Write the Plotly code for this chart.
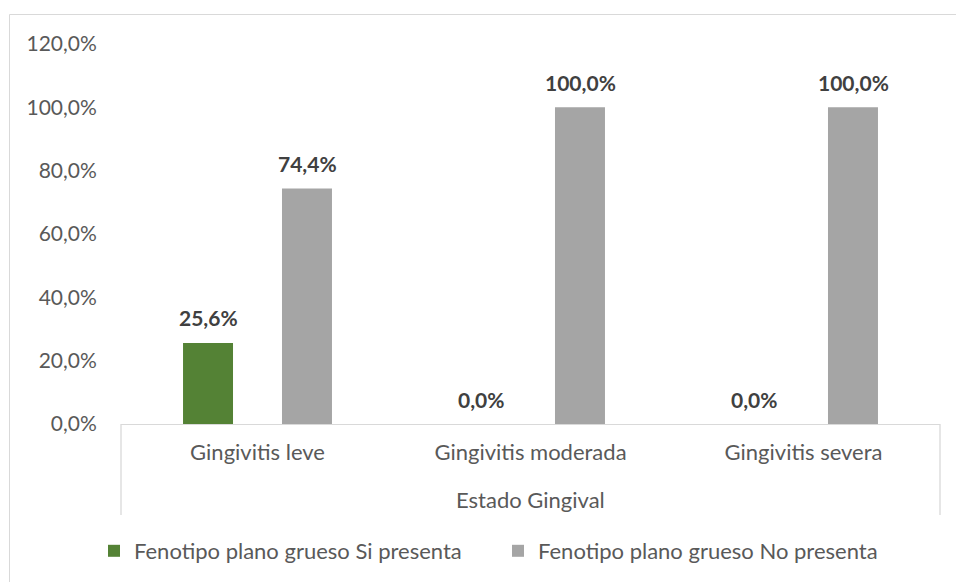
import plotly.graph_objects as go

# Data
categories = ["Gingivitis leve", "Gingivitis moderada", "Gingivitis severa"]
si_presenta = [25.6, 0.0, 0.0]
no_presenta = [74.4, 100.0, 100.0]
series_names = ["Fenotipo plano grueso Si presenta", "Fenotipo plano grueso No presenta"]
y_ticks = [0, 20, 40, 60, 80, 100, 120]
axis_title = "Estado Gingival"

GREEN = "#548235"
GRAY = "#a5a5a5"
FONT = "Lato, Open Sans, sans-serif"
TICK_COLOR = "#595959"
LABEL_COLOR = "#404040"
BORDER = "#d9d9d9"

W, H = 956, 582
M_L, M_R, M_T, M_B = 121, 16, 44, 158
plot_h = H - M_T - M_B


def py(px_y):
    """Convert a pixel row to paper y coordinate."""
    return (H - M_B - px_y) / plot_h


def px(px_x):
    return (px_x - M_L) / (W - M_L - M_R)


def pct(v):
    return f"{v:.1f}%".replace(".", ",")


fig = go.Figure()
fig.add_trace(go.Bar(x=categories, y=si_presenta, name=series_names[0],
                     marker=dict(color=GREEN, line=dict(width=0))))
fig.add_trace(go.Bar(x=categories, y=no_presenta, name=series_names[1],
                     marker=dict(color=GRAY, line=dict(width=0))))

# value labels above each bar
annotations = []
for offset, values in ((-0.5, si_presenta), (0.5, no_presenta)):
    for i, v in enumerate(values):
        annotations.append(dict(
            x=i, y=v, xref="x", yref="y", xshift=offset * 99,
            yshift=25, yanchor="middle", xanchor="center", showarrow=False,
            text=f"<b>{pct(v)}</b>",
            font=dict(family=FONT, size=21, color=LABEL_COLOR),
        ))
annotations.append(dict(
    x=0.5, y=py(499), xref="paper", yref="paper", showarrow=False,
    yanchor="middle", xanchor="center", text=axis_title,
    font=dict(family=FONT, size=22, color=TICK_COLOR),
))

shapes = [
    # chart frame
    dict(type="rect", xref="paper", yref="paper",
         x0=px(9.5), x1=px(1100), y0=py(14.5), y1=py(700),
         line=dict(color=BORDER, width=1), fillcolor="rgba(0,0,0,0)", layer="below"),
    # category axis box sides
    dict(type="line", xref="paper", yref="paper", x0=0, x1=0, y0=0, y1=py(515),
         line=dict(color=BORDER, width=1.3)),
    dict(type="line", xref="paper", yref="paper", x0=1, x1=1, y0=0, y1=py(515),
         line=dict(color=BORDER, width=1.3)),
]

fig.update_layout(
    width=W, height=H,
    margin=dict(l=M_L, r=M_R, t=M_T, b=M_B, autoexpand=False),
    paper_bgcolor="white", plot_bgcolor="white",
    barmode="group", bargap=0.275, bargroupgap=0.495,
    font=dict(family=FONT, size=22, color=TICK_COLOR),
    showlegend=True,
    legend=dict(orientation="h", x=px(94), xanchor="left", y=py(551), yanchor="middle",
                font=dict(family=FONT, size=22, color=TICK_COLOR),
                itemwidth=30, entrywidth=359, entrywidthmode="pixels",
                traceorder="normal"),
    annotations=annotations,
    shapes=shapes,
)
fig.update_xaxes(
    showline=True, linecolor=BORDER, linewidth=1.3,
    showgrid=False, ticks="outside", ticklen=8, tickcolor="rgba(0,0,0,0)",
    tickfont=dict(family=FONT, size=22, color=TICK_COLOR),
    automargin=False,
)
fig.update_yaxes(
    range=[0, 120], tickvals=y_ticks, ticktext=[pct(t) for t in y_ticks],
    showgrid=False, showline=False, zeroline=False,
    ticks="outside", ticklen=19, tickcolor="rgba(0,0,0,0)",
    tickfont=dict(family=FONT, size=21, color=TICK_COLOR),
    automargin=False,
)

fig.write_html("out.html")
